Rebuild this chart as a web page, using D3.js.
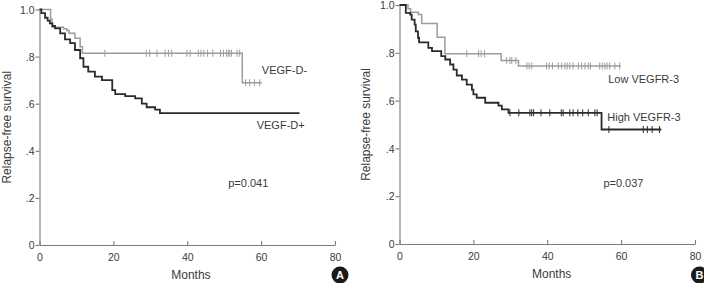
<!DOCTYPE html>
<html>
<head>
<meta charset="utf-8">
<script src="https://cdn.jsdelivr.net/npm/d3@7"></script>
<style>
  body { margin: 0; background: #fff; }
  svg { display: block; }
  text { font-family: "Liberation Sans", Arial, sans-serif; fill: #3a3a3a; }
</style>
</head>
<body>
<div id="chart"></div>
<script>
// Axis ticks
var monthTicks = [0, 20, 40, 60, 80];
var survTicks = [0, 0.2, 0.4, 0.6, 0.8, 1.0];
var survTickLabels = ["0", ".2", ".4", ".6", ".8", "1.0"];

// Panel A - VEGF-D- (gray)
var dNegTimes = [0, 3.0, 3.4, 6.5, 7.4, 8.0, 9.6, 11.0, 11.6, 54.9, 60.2];
var dNegSurv  = [1.0, 0.96, 0.925, 0.918, 0.911, 0.899, 0.878, 0.842, 0.814, 0.689, 0.689];
var dNegCensor = [17.7, 28.9, 29.8, 31.8, 34.0, 34.9, 35.8, 39.9, 40.8, 43.0, 43.7, 44.5, 45.5, 46.9,
                  49.0, 49.8, 50.6, 51.1, 51.5, 52.0, 53.5, 54.2, 55.8, 56.9, 58.2, 59.6];

// Panel A - VEGF-D+ (black)
var dPosTimes = [0, 0.5, 1.5, 2.2, 2.8, 3.5, 4.2, 5.6, 6.9, 8.3, 9.6, 11.0, 11.9, 13.2, 15.0, 16.9,
                 19.7, 20.5, 23.2, 25.9, 27.7, 29.0, 31.3, 32.6, 70.4];
var dPosSurv  = [1.0, 0.985, 0.965, 0.953, 0.941, 0.93, 0.92, 0.899, 0.873, 0.857, 0.828, 0.793, 0.757,
                 0.736, 0.715, 0.70, 0.658, 0.641, 0.632, 0.623, 0.60, 0.585, 0.575, 0.56, 0.56];
var dPosCensor = [];

// Panel B - Low VEGFR-3 (gray)
var lowTimes = [0, 2.3, 3.0, 5.1, 6.0, 10.2, 12.3, 27.5, 32.2, 59.9];
var lowSurv  = [1.0, 0.984, 0.97, 0.96, 0.923, 0.865, 0.796, 0.768, 0.745, 0.745];
var lowCensor = [18.2, 21.4, 22.1, 23.0, 29.0, 29.9, 30.4, 31.5, 34.5, 35.1, 35.8, 39.8, 40.5, 41.4,
                 43.0, 43.9, 44.8, 45.4, 46.1, 47.0, 48.4, 49.3, 50.2, 51.1, 51.7, 54.2, 54.9, 55.6,
                 56.2, 56.9, 58.3, 59.6];

// Panel B - High VEGFR-3 (black)
var highTimes = [0, 1.7, 2.9, 3.3, 4.1, 4.4, 5.0, 5.3, 7.8, 8.8, 11.3, 12.4, 13.7, 14.6, 15.5, 16.9,
                 18.2, 19.6, 20.0, 20.9, 23.2, 26.8, 27.7, 29.5, 54.7, 70.9];
var highSurv  = [1.0, 0.967, 0.96, 0.939, 0.918, 0.89, 0.863, 0.844, 0.821, 0.807, 0.786, 0.772, 0.751,
                 0.73, 0.705, 0.688, 0.667, 0.646, 0.626, 0.612, 0.591, 0.579, 0.563, 0.549, 0.479, 0.479];
var highCensor = [29.9, 32.3, 35.3, 35.8, 36.3, 38.3, 40.7, 43.8, 44.3, 46.1, 47.0, 48.3, 49.6, 51.1,
                  52.9, 53.5, 56.7, 66.0, 67.1, 68.4, 70.4];

var width = 704, height = 283;

var svg = d3.select("#chart")
    .append("svg")
    .attr("width", width)
    .attr("height", height);

// Panel layout
var panels = [
  {
    x0: 39.5, x1: 335, y0: 245, y1: 9.5, yLabelX: 7, monthsX: 41, letter: "A", letterX: 340,
    curves: [
      {times: dNegTimes, surv: dNegSurv, censor: dNegCensor, color: "#9c9c9c", width: 1.5},
      {times: dPosTimes, surv: dPosSurv, censor: dPosCensor, color: "#2b2b2b", width: 1.8}
    ],
    labels: [
      {text: "VEGF-D-", m: 60.2, v: 0.726},
      {text: "VEGF-D+", m: 58.8, v: 0.493},
      {text: "p=0.041", m: 51.1, v: 0.245}
    ]
  },
  {
    x0: 399.5, x1: 695, y0: 244, y1: 5, yLabelX: 366, monthsX: 41.2, letter: "B", letterX: 699.5,
    curves: [
      {times: lowTimes, surv: lowSurv, censor: lowCensor, color: "#9c9c9c", width: 1.5},
      {times: highTimes, surv: highSurv, censor: highCensor, color: "#2b2b2b", width: 1.8}
    ],
    labels: [
      {text: "Low VEGFR-3", m: 56.5, v: 0.672},
      {text: "High VEGFR-3", m: 56.25, v: 0.516},
      {text: "p=0.037", m: 55.2, v: 0.237}
    ]
  }
];

// Survival value at time t for a step curve
function stepValue(times, surv, t) {
  var i = d3.bisectRight(times, t) - 1;
  return surv[Math.max(0, Math.min(i, surv.length - 1))];
}

panels.forEach(drawPanel);

function drawPanel(p) {
  var x = d3.scaleLinear().domain([0, 80]).range([p.x0, p.x1]);
  var y = d3.scaleLinear().domain([0, 1]).range([p.y0, p.y1]);
  var g = svg.append("g");

  // x axis, ticks pointing up
  var xAxis = g.append("g")
      .attr("transform", "translate(0," + p.y0 + ")")
      .call(d3.axisBottom(x).tickValues(monthTicks).tickSizeInner(-4).tickSizeOuter(0)
            .tickPadding(9).tickFormat(d3.format("d")));

  // y axis
  var yAxis = g.append("g")
      .attr("transform", "translate(" + p.x0 + ",0)")
      .call(d3.axisLeft(y).tickValues(survTicks).tickSize(4).tickSizeOuter(0).tickPadding(1)
            .tickFormat(function (d, i) { return survTickLabels[i]; }));

  [xAxis, yAxis].forEach(function (a) {
    a.selectAll("path, line").attr("stroke", "#7a7a7a").attr("stroke-width", 1.1);
    a.selectAll("text").attr("fill", "#3a3a3a").style("font-size", "10.5px")
        .style("font-family", "'Liberation Sans', Arial, sans-serif");
  });
  yAxis.selectAll("text").attr("dy", "0.36em");

  // curves
  var line = d3.line()
      .x(function (d) { return x(d[0]); })
      .y(function (d) { return y(d[1]); })
      .curve(d3.curveStepAfter);

  p.curves.forEach(function (c) {
    var pts = c.times.map(function (t, i) { return [t, c.surv[i]]; });
    g.append("path")
        .datum(pts)
        .attr("d", line)
        .attr("fill", "none")
        .attr("stroke", c.color)
        .attr("stroke-width", c.width);

    g.selectAll(null)
        .data(c.censor)
        .enter().append("line")
        .attr("x1", function (d) { return x(d); })
        .attr("x2", function (d) { return x(d); })
        .attr("y1", function (d) { return y(stepValue(c.times, c.surv, d)) - 3.5; })
        .attr("y2", function (d) { return y(stepValue(c.times, c.surv, d)) + 3.5; })
        .attr("stroke", c.color)
        .attr("stroke-width", 1);
  });

  // curve labels and p value
  g.selectAll(null)
      .data(p.labels)
      .enter().append("text")
      .attr("x", function (d) { return x(d.m); })
      .attr("y", function (d) { return y(d.v); })
      .style("font-size", "11px")
      .text(function (d) { return d.text; });

  // axis titles
  g.append("text")
      .attr("x", x(p.monthsX))
      .attr("y", p.y0 + 34)
      .attr("text-anchor", "middle")
      .style("font-size", "12px")
      .text("Months");

  g.append("text")
      .attr("transform", "translate(" + p.yLabelX + "," + y(0.5) + ") rotate(-90)")
      .attr("text-anchor", "middle")
      .attr("dy", "0.35em")
      .style("font-size", "12px")
      .text("Relapse-free survival");

  // panel letter badge
  g.append("circle")
      .attr("cx", p.letterX)
      .attr("cy", 275)
      .attr("r", 8.5)
      .attr("fill", "#1a1a1a");
  g.append("text")
      .attr("x", p.letterX)
      .attr("y", 275)
      .attr("dy", "0.36em")
      .attr("text-anchor", "middle")
      .style("font-size", "11px")
      .style("font-weight", "bold")
      .style("fill", "#fff")
      .text(p.letter);
}
</script>
</body>
</html>
